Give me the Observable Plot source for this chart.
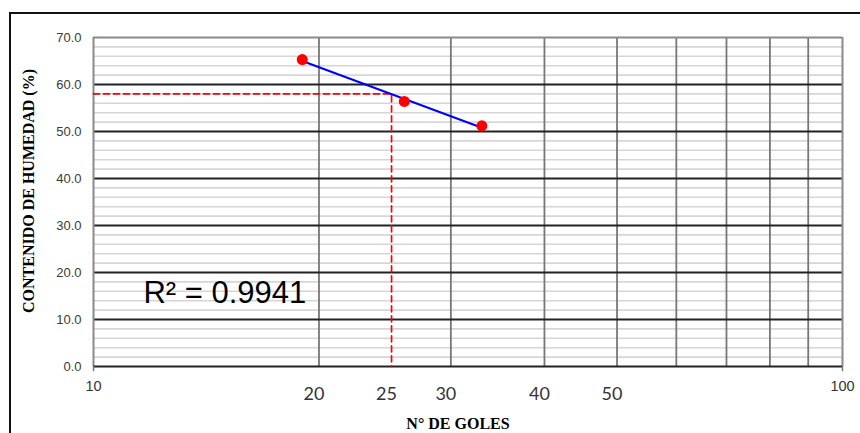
<!DOCTYPE html>
<html><head><meta charset="utf-8">
<script src="https://cdn.jsdelivr.net/npm/d3@7"></script>
<script src="https://cdn.jsdelivr.net/npm/@observablehq/plot@0.6"></script>
<style>
body{margin:0;background:#fff;}
#wrap{position:relative;width:860px;height:433px;overflow:hidden;background:#fff;}
#frame{position:absolute;left:9px;top:12px;width:900px;height:500px;border-left:2px solid #111;border-top:2px solid #111;}
#chart{position:absolute;left:0;top:0;}
</style></head><body><div id="wrap"><div id="frame"></div><div id="chart"></div></div>
<script>
// Data points (N° de golpes vs contenido de humedad)
const golpes = [19, 26, 33];
const humedad = [65.3, 56.4, 51.2];
// Trendline endpoints
const trendX = [19, 33];
const trendY = [65.0, 50.8];
// Liquid-limit reading at 25 blows
const lcX = 25;
const lcY = 58.0;
const r2Label = "R² = 0.9941";
// Tick labels
const yTicks = [0, 10, 20, 30, 40, 50, 60, 70];
const xTicksEdge = [10, 100];
const xTicksInner = [20, 25, 30, 40, 50];
const xGrid = [20, 30, 40, 50, 60, 70, 80, 90];
const yMajorGrid = [10, 20, 30, 40, 50, 60];
const yMinorGrid = [2,4,6,8,12,14,16,18,22,24,26,28,32,34,36,38,42,44,46,48,52,54,56,58,62,64,66,68];
const yLabel = "CONTENIDO DE HUMEDAD (%)";
const xLabel = "N° DE GOLES";

const pts = golpes.map((g, i) => ({x: g, y: humedad[i]}));
const trend = trendX.map((g, i) => ({x: g, y: trendY[i]}));
const dashed = [{x: 10, y: lcY}, {x: lcX, y: lcY}, {x: lcX, y: 0}];

const chart = Plot.plot({
  width: 860,
  height: 433,
  marginLeft: 93,
  marginRight: 18,
  marginTop: 37,
  marginBottom: 67,
  x: {type: "log", domain: [10, 100], axis: null},
  y: {type: "linear", domain: [0, 70], axis: null},
  style: {fontFamily: "'Liberation Sans', Arial, sans-serif", overflow: "visible", background: "transparent"},
  marks: [
    Plot.ruleY(yMinorGrid, {stroke: "#d6d6d6", strokeWidth: 1.6}),
    Plot.ruleX(xGrid, {stroke: "#777", strokeWidth: 1.8}),
    Plot.ruleY(yMajorGrid, {stroke: "#222", strokeWidth: 2}),
    Plot.ruleY([70], {stroke: "#8a8a8a", strokeWidth: 2}),
    Plot.ruleX([10, 100], {stroke: "#8a8a8a", strokeWidth: 2}),
    Plot.ruleY([0], {stroke: "#222", strokeWidth: 2}),
    Plot.ruleX(xTicksEdge, {x: d => d, y1: 0, y2: -1.1, stroke: "#777", strokeWidth: 1.5}),
    // dashed reference
    Plot.line(dashed, {x: "x", y: "y", stroke: "#ff0000", strokeWidth: 1.7, strokeDasharray: "6,4"}),
    // trendline
    Plot.line(trend, {x: "x", y: "y", stroke: "#0000ff", strokeWidth: 2}),
    Plot.dot(pts, {x: "x", y: "y", r: 5.5, fill: "#ff0000", stroke: "none"}),
    // y tick labels
    Plot.text(yTicks, {frameAnchor: "left", y: d => d, text: d => d.toFixed(1), textAnchor: "end", lineAnchor: "middle", dx: -12, fontSize: 13, fill: "#3a3a3a"}),
    // x tick labels
    Plot.text(xTicksEdge, {x: d => d, frameAnchor: "bottom", text: d => String(d), textAnchor: "middle", lineAnchor: "middle", dy: 20, fontSize: 14.5, fill: "#333"}),
    Plot.text(xTicksInner, {x: d => d, frameAnchor: "bottom", text: d => String(d), textAnchor: "middle", lineAnchor: "middle", dy: 28, dx: -5, fontSize: 18, fill: "#333", fontFamily: "Lato, 'Open Sans', sans-serif"}),
    // R² annotation
    Plot.text([r2Label], {x: [11.66], y: [15.7], text: d => d, textAnchor: "start", lineAnchor: "middle", fontSize: 31, fill: "#000"}),
    // axis titles
    Plot.text([yLabel], {frameAnchor: "left", text: d => d, rotate: -90, textAnchor: "middle", lineAnchor: "middle", dx: -65, dy: -11, fontSize: 16, fontWeight: "bold", fontFamily: "'Liberation Serif', 'DejaVu Serif', serif", fill: "#000"}),
    Plot.text([xLabel], {frameAnchor: "bottom", text: d => d, textAnchor: "middle", lineAnchor: "middle", dx: -10, dy: 57, fontSize: 16, fontWeight: "bold", fontFamily: "'Liberation Serif', 'DejaVu Serif', serif", fill: "#000"})
  ]
});
document.getElementById("chart").appendChild(chart);
</script>
</body></html>
